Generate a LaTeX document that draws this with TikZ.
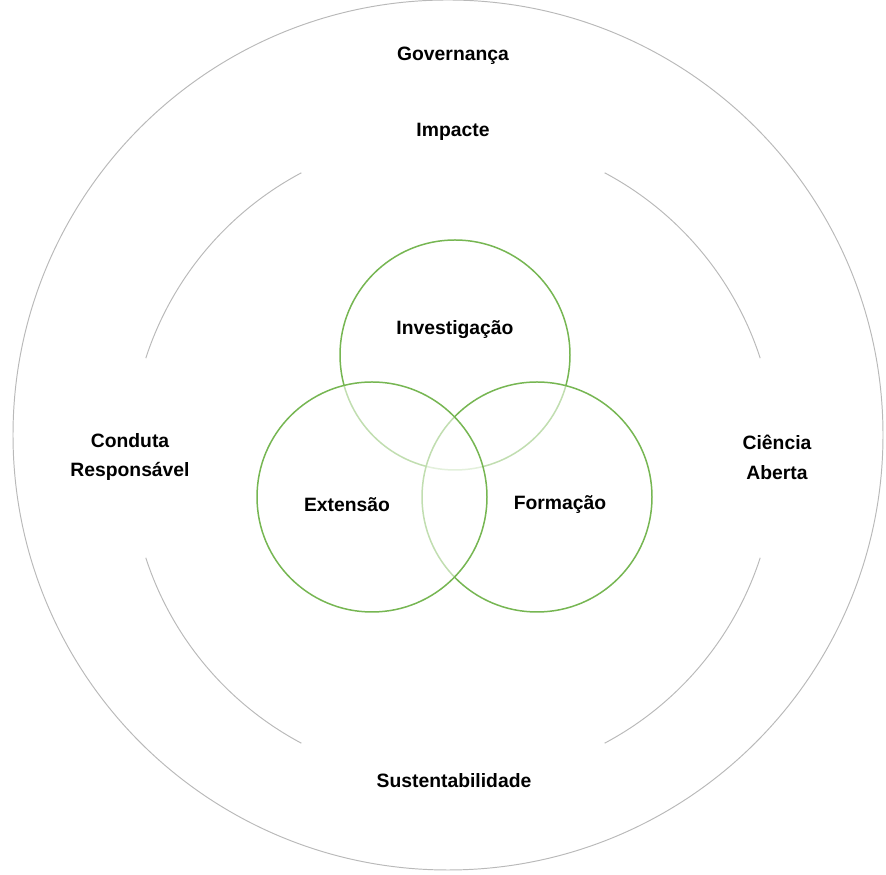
\documentclass[tikz,border=0pt]{standalone}
\usepackage{fontspec}
\setmainfont{Liberation Sans}
\definecolor{ringgrey}{RGB}{185,185,185}
\definecolor{leafgreen}{RGB}{118,182,82}
\tikzset{
  lbl/.style={font=\fontsize{11}{17}\selectfont\bfseries, align=center, text=black},
  ring/.style={draw=ringgrey, line width=0.55pt},
  pillar/.style={draw=leafgreen, line width=0.85pt, fill=white, fill opacity=0.55}
}
\begin{document}
\begin{tikzpicture}[x=0.02cm, y=0.02cm]
    \useasboundingbox (0,0) rectangle (886,875);

    \coordinate (mid) at (448,440);
    \coordinate (hub) at (453,417);
    \coordinate (cinv) at (455,520);
    \coordinate (cext) at (372,378);
    \coordinate (cfor) at (537,378);

    % outer ring and inner arcs
    \draw[ring] (mid) circle (435);
    \foreach \a in {18,118,198,298}
        \draw[ring] (hub) ++(\a:323) arc (\a:\a+44:323);

    % the three pillars
    \draw[pillar] (cinv) circle (115);
    \draw[pillar] (cfor) circle (115);
    \draw[pillar] (cext) circle (115);

    \node[lbl] (gov) at (453,819) {Governança};
    \node[lbl] (imp) at (453,743) {Impacte};
    \node[lbl] (cond) at (130,418) {Conduta\\Responsável};
    \node[lbl] (cien) at (777,418) {Ciência\\Aberta};
    \node[lbl] (sust) at (454,94) {Sustentabilidade};

    \node[lbl] (inv) at (455,545) {Investigação};
    \node[lbl] (ext) at (347,370) {Extensão};
    \node[lbl] (form) at (560,370) {Formação};
\end{tikzpicture}
\end{document}
